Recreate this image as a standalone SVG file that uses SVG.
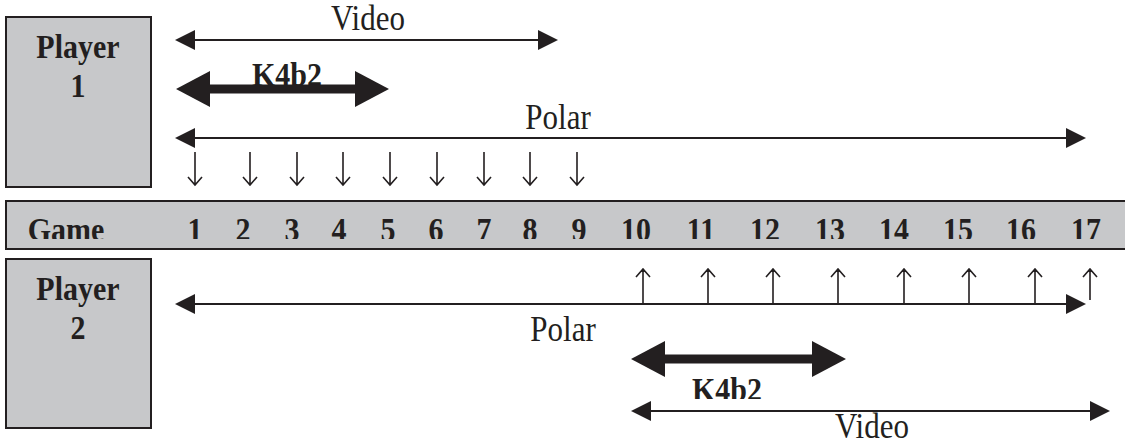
<svg xmlns="http://www.w3.org/2000/svg" width="1125" height="445" viewBox="0 0 1125 445">
<style>
.box{fill:#c7c8ca;stroke:#231f20;stroke-width:2}
.b{font-family:"Liberation Serif","Times New Roman",serif;font-weight:bold;font-size:30px;fill:#231f20;text-anchor:middle}
.r{font-family:"Liberation Serif","Times New Roman",serif;font-size:31px;fill:#231f20;text-anchor:middle}
.thin{stroke:#231f20;stroke-width:2;fill:none}
.thick{stroke:#231f20;stroke-width:9;fill:none}
.tick{stroke:#231f20;stroke-width:1.6;fill:none}
</style>
<defs>
<marker id="ah" viewBox="0 0 20 20" refX="0" refY="10" markerWidth="20" markerHeight="20" markerUnits="userSpaceOnUse" orient="auto-start-reverse">
<path d="M0,0 L20,10 L0,20 z" fill="#231f20"/>
</marker>
<marker id="ahb" viewBox="0 0 34 36" refX="0" refY="18" markerWidth="34" markerHeight="36" markerUnits="userSpaceOnUse" orient="auto-start-reverse">
<path d="M0,0 L34,18 L0,36 z" fill="#231f20"/>
</marker>
<clipPath id="barclip"><rect x="0" y="200" width="1125" height="39"/></clipPath>
<clipPath id="k2clip"><rect x="600" y="360" width="300" height="39"/></clipPath>
</defs>

<g id="player1">
<rect class="box" x="6" y="17" width="145" height="170"/>
<text class="b" transform="translate(78 58) scale(1 1.15)">Player</text>
<text class="b" transform="translate(78 97) scale(1 1.15)">1</text>
</g>

<g id="game">
<rect class="box" x="6" y="201" width="1122" height="48"/>
<g clip-path="url(#barclip)">
<text class="b" transform="translate(66 241) scale(1 1.15)">Game</text>
<text class="b" transform="translate(195 241) scale(1 1.15)">1</text>
<text class="b" transform="translate(243 241) scale(1 1.15)">2</text>
<text class="b" transform="translate(292 241) scale(1 1.15)">3</text>
<text class="b" transform="translate(339 241) scale(1 1.15)">4</text>
<text class="b" transform="translate(388 241) scale(1 1.15)">5</text>
<text class="b" transform="translate(436 241) scale(1 1.15)">6</text>
<text class="b" transform="translate(484 241) scale(1 1.15)">7</text>
<text class="b" transform="translate(530 241) scale(1 1.15)">8</text>
<text class="b" transform="translate(579 241) scale(1 1.15)">9</text>
<text class="b" transform="translate(636 241) scale(1 1.15)">10</text>
<text class="b" transform="translate(701 241) scale(1 1.15)">11</text>
<text class="b" transform="translate(765 241) scale(1 1.15)">12</text>
<text class="b" transform="translate(830 241) scale(1 1.15)">13</text>
<text class="b" transform="translate(894 241) scale(1 1.15)">14</text>
<text class="b" transform="translate(958 241) scale(1 1.15)">15</text>
<text class="b" transform="translate(1021 241) scale(1 1.15)">16</text>
<text class="b" transform="translate(1086 241) scale(1 1.15)">17</text>
</g>
</g>

<g id="player2">
<rect class="box" x="6" y="259" width="145" height="169"/>
<text class="b" transform="translate(78 300) scale(1 1.15)">Player</text>
<text class="b" transform="translate(78 339) scale(1 1.15)">2</text>
</g>

<g id="labels">
<text class="r" transform="translate(368 30) scale(1 1.15)">Video</text>
<text class="b" transform="translate(287 86) scale(1 1.15)">K4b2</text>
<text class="r" transform="translate(558 129) scale(1 1.15)">Polar</text>
<text class="r" transform="translate(563 341) scale(1 1.15)">Polar</text>
<g clip-path="url(#k2clip)"><text class="b" transform="translate(727 401) scale(1 1.15)">K4b2</text></g>
<text class="r" transform="translate(872 438) scale(1 1.15)">Video</text>
</g>

<g id="connectors">
<line class="thin" x1="195" y1="40" x2="538" y2="40" marker-start="url(#ah)" marker-end="url(#ah)"/>
<line class="thick" x1="210" y1="89" x2="355" y2="89" marker-start="url(#ahb)" marker-end="url(#ahb)"/>
<line class="thin" x1="195" y1="138" x2="1066" y2="138" marker-start="url(#ah)" marker-end="url(#ah)"/>
<path class="tick" d="M195,152V185M188,177L195,185L202,177 M250,152V185M243,177L250,185L257,177 M297,152V185M290,177L297,185L304,177 M343,152V185M336,177L343,185L350,177 M390,152V185M383,177L390,185L397,177 M437,152V185M430,177L437,185L444,177 M484,152V185M477,177L484,185L491,177 M530,152V185M523,177L530,185L537,177 M577,152V185M570,177L577,185L584,177"/>
<path class="tick" d="M643,303V269M636,277L643,269L650,277 M708,303V269M701,277L708,269L715,277 M773,303V269M766,277L773,269L780,277 M838,303V269M831,277L838,269L845,277 M904,303V269M897,277L904,269L911,277 M969,303V269M962,277L969,269L976,277 M1035,303V269M1028,277L1035,269L1042,277 M1090,300V269M1083,277L1090,269L1097,277"/>
<line class="thin" x1="195" y1="304" x2="1066" y2="304" marker-start="url(#ah)" marker-end="url(#ah)"/>
<line class="thick" x1="665" y1="359" x2="812" y2="359" marker-start="url(#ahb)" marker-end="url(#ahb)"/>
<line class="thin" x1="651" y1="411" x2="1090" y2="411" marker-start="url(#ah)" marker-end="url(#ah)"/>
</g>
</svg>
